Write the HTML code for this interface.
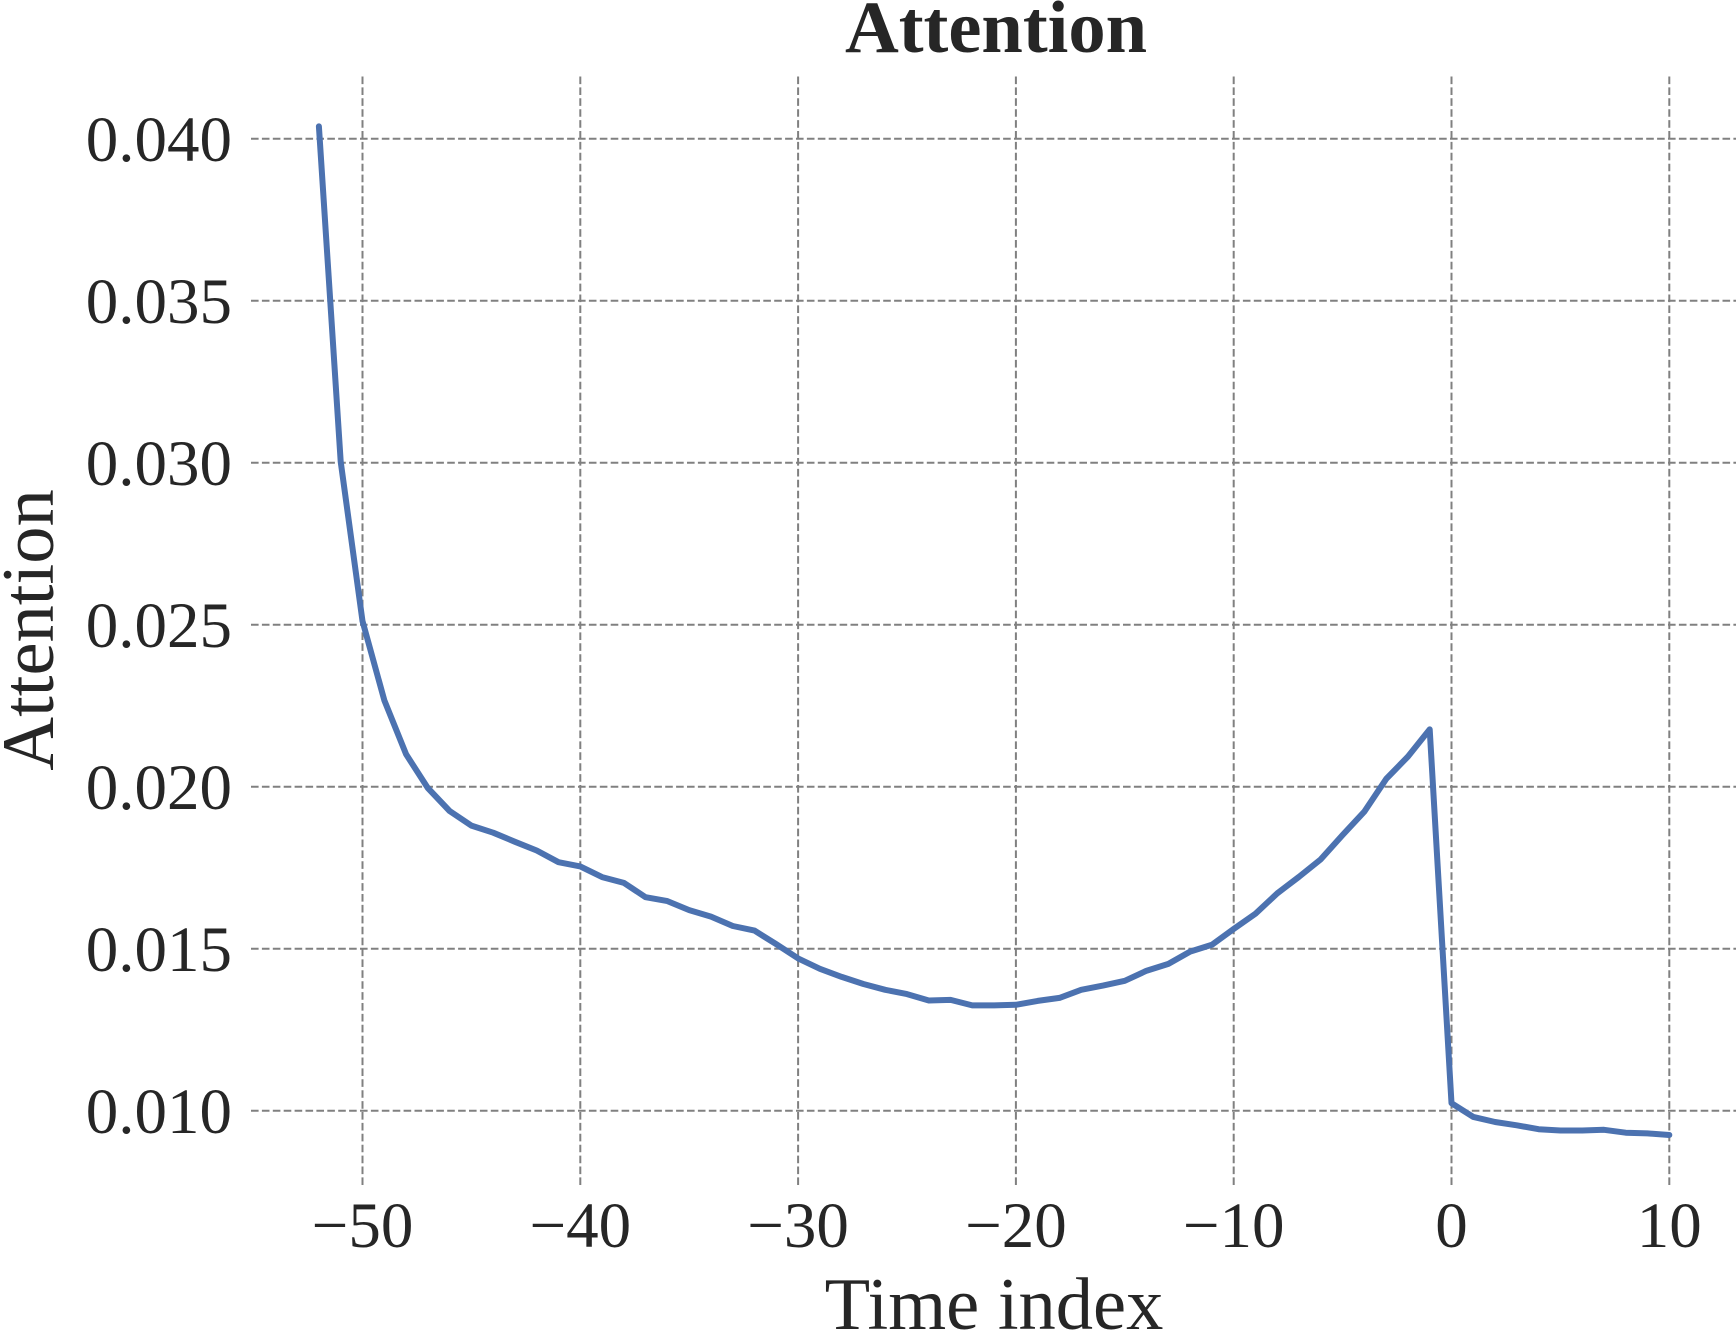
<!DOCTYPE html>
<html>
<head>
<meta charset="utf-8">
<style>
  html, body { margin: 0; padding: 0; background: #ffffff; }
  body { width: 1736px; height: 1331px; overflow: hidden; }
  svg { display: block; }
  text { font-family: "Liberation Serif", "Times New Roman", serif; fill: #262626; }
</style>
</head>
<body>
<svg width="1736" height="1331" viewBox="0 0 1736 1331" xmlns="http://www.w3.org/2000/svg">
  <rect x="0" y="0" width="1736" height="1331" fill="#ffffff"/>

  <!-- horizontal grid -->
  <g stroke="#808080" stroke-width="2" stroke-dasharray="7.6 3.3" fill="none">
    <line x1="251" y1="138.7" x2="1736" y2="138.7"/>
    <line x1="251" y1="300.7" x2="1736" y2="300.7"/>
    <line x1="251" y1="462.7" x2="1736" y2="462.7"/>
    <line x1="251" y1="624.7" x2="1736" y2="624.7"/>
    <line x1="251" y1="786.7" x2="1736" y2="786.7"/>
    <line x1="251" y1="948.7" x2="1736" y2="948.7"/>
    <line x1="251" y1="1110.7" x2="1736" y2="1110.7"/>
  </g>
  <!-- vertical grid -->
  <g stroke="#808080" stroke-width="2" stroke-dasharray="7.6 3.3" fill="none">
    <line x1="362.5" y1="1185" x2="362.5" y2="76"/>
    <line x1="580.3" y1="1185" x2="580.3" y2="76"/>
    <line x1="798.1" y1="1185" x2="798.1" y2="76"/>
    <line x1="1015.9" y1="1185" x2="1015.9" y2="76"/>
    <line x1="1233.7" y1="1185" x2="1233.7" y2="76"/>
    <line x1="1451.5" y1="1185" x2="1451.5" y2="76"/>
    <line x1="1669.3" y1="1185" x2="1669.3" y2="76"/>
  </g>

  <!-- data line -->
  <polyline fill="none" stroke="#4c72b0" stroke-width="6" stroke-linecap="round" stroke-linejoin="round"
    points="318.9,126.4 340.7,461.7 362.5,621.1 384.3,700.2 406.1,754.3 427.8,788.0 449.6,811.0 471.4,825.6 493.2,832.7 515.0,841.8 536.7,850.5 558.5,862.2 580.3,866.4 602.1,877.1 623.9,882.9 645.6,897.2 667.4,901.1 689.2,910.1 711.0,916.6 732.8,926.0 754.5,930.6 776.3,944.2 798.1,958.4 819.9,968.8 841.7,976.9 863.4,984.0 885.2,989.8 907.0,994.1 928.8,1000.5 950.6,999.9 972.3,1005.4 994.1,1005.4 1015.9,1004.8 1037.7,1000.9 1059.5,997.9 1081.2,989.8 1103.0,985.6 1124.8,980.8 1146.6,970.7 1168.4,963.9 1190.1,951.6 1211.9,944.8 1233.7,928.9 1255.5,913.7 1277.3,893.3 1299.0,876.8 1320.8,859.3 1342.6,835.0 1364.4,811.6 1386.2,778.9 1407.9,756.6 1429.7,729.4 1451.5,1103.2 1473.3,1116.9 1495.1,1122.0 1516.8,1125.3 1538.6,1129.2 1560.4,1130.5 1582.2,1130.5 1604.0,1129.8 1625.7,1132.7 1647.5,1133.4 1669.3,1135.0"/>

  <!-- y tick labels -->
  <g font-size="65" text-anchor="end">
    <text x="232" y="161">0.040</text>
    <text x="232" y="323">0.035</text>
    <text x="232" y="485">0.030</text>
    <text x="232" y="647">0.025</text>
    <text x="232" y="809">0.020</text>
    <text x="232" y="971">0.015</text>
    <text x="232" y="1133">0.010</text>
  </g>

  <!-- x tick labels -->
  <g font-size="65" text-anchor="middle">
    <text x="362.5" y="1247">−50</text>
    <text x="580.3" y="1247">−40</text>
    <text x="798.1" y="1247">−30</text>
    <text x="1015.9" y="1247">−20</text>
    <text x="1233.7" y="1247">−10</text>
    <text x="1451.5" y="1247">0</text>
    <text x="1669.3" y="1247">10</text>
  </g>

  <!-- axis labels -->
  <text x="994" y="1329" font-size="74.5" text-anchor="middle">Time index</text>
  <text x="0" y="0" font-size="74.5" text-anchor="middle" transform="translate(53,630) rotate(-90)">Attention</text>

  <!-- title -->
  <text x="996" y="52" font-size="74.5" font-weight="bold" text-anchor="middle">Attention</text>
</svg>
</body>
</html>
